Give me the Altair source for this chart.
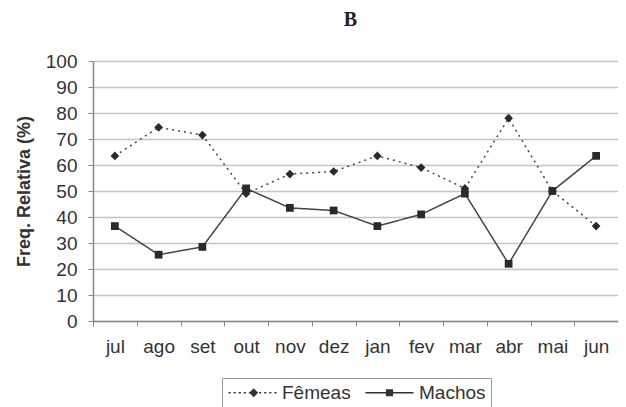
import altair as alt
import pandas as pd

meses = ["jul", "ago", "set", "out", "nov", "dez", "jan", "fev", "mar", "abr", "mai", "jun"]
femeas = [63.5, 74.5, 71.5, 49.0, 56.5, 57.5, 63.5, 59.0, 51.0, 78.0, 50.0, 36.5]
machos = [36.5, 25.5, 28.5, 51.0, 43.5, 42.5, 36.5, 41.0, 49.0, 22.0, 50.0, 63.5]
series = ["Fêmeas", "Machos"]
y_ticks = list(range(0, 101, 10))

rows = []
for i, m in enumerate(meses):
    rows.append({"mes": m, "serie": series[0], "valor": femeas[i], "leg": series[0]})
    rows.append({"mes": m, "serie": series[1], "valor": machos[i], "leg": series[1]})
df = pd.DataFrame(rows)

INK = "#333333"
FONT = "Liberation Sans"

# legend symbol paths (filled shapes only): x spans -4..4 units,
# symbol size 144 -> 6 px per unit -> 48 px wide
H = 0.13  # half line thickness in units

def dotted_path(dash=0.35, gap=0.5):
    parts = []
    x = -4.0
    while x < 4.0:
        x2 = min(x + dash, 4.0)
        parts.append(f"M{x:.3f},{-H}H{x2:.3f}V{H}H{x:.3f}Z")
        x = x2 + gap
    return "".join(parts)

fem_path = dotted_path() + "M0.2,-0.75L0.95,0L0.2,0.75L-0.55,0Z"
mac_path = f"M-4,{-H}H4V{H}H-4ZM-0.6,-0.6H0.6V0.6H-0.6Z"

x_enc = alt.X(
    "mes:N",
    sort=meses,
    scale=alt.Scale(type="band", paddingInner=0, paddingOuter=0),
    bandPosition=0.5,
    axis=alt.Axis(
        title=None,
        tickBand="extent",
        labelAngle=0,
        labelFont=FONT,
        labelFontSize=19,
        labelColor=INK,
        labelPadding=11,
        tickSize=5,
        tickColor="#888888",
        domainColor="#888888",
        domainWidth=1.5,
        grid=False,
    ),
)
y_enc = alt.Y(
    "valor:Q",
    scale=alt.Scale(domain=[0, 100], nice=False),
    axis=alt.Axis(
        title="Freq. Relativa (%)",
        values=y_ticks,
        titleFont=FONT,
        titleFontSize=18,
        titleFontWeight="bold",
        titleColor=INK,
        titlePadding=12,
        labelFont=FONT,
        labelFontSize=19,
        labelColor=INK,
        labelPadding=11,
        tickSize=5,
        tickColor="#888888",
        domainColor="#888888",
        domainWidth=1.5,
        grid=True,
        gridColor="#c4c4c4",
        gridWidth=1.5,
    ),
)

base = alt.Chart(df)

lines = base.mark_line(color="#444444", strokeWidth=1.5).encode(
    x=x_enc,
    y=y_enc,
    detail="serie:N",
    strokeDash=alt.StrokeDash(
        "serie:N",
        scale=alt.Scale(domain=series, range=[[2, 4], [1, 0]]),
        legend=None,
    ),
)

points = base.mark_point(filled=True, color="#2a2a2a", opacity=1).encode(
    x=x_enc,
    y=y_enc,
    shape=alt.Shape(
        "serie:N",
        scale=alt.Scale(domain=series, range=["diamond", "square"]),
        legend=None,
    ),
    size=alt.Size("serie:N", scale=alt.Scale(domain=series, range=[75, 60]), legend=None),
)

legend_layer = base.mark_point(
    filled=True, fill="#333333", opacity=0
).encode(
    x=x_enc,
    y=y_enc,
    shape=alt.Shape(
        "leg:N",
        scale=alt.Scale(domain=series, range=[fem_path, mac_path]),
        legend=alt.Legend(
            title=None,
            orient="none",
            legendX=129,
            legendY=317,
            direction="horizontal",
            strokeColor="#999999",
            padding=5,
            labelFont=FONT,
            labelFontSize=19,
            labelColor=INK,
            labelOffset=20,
            columnPadding=11,
            symbolSize=144,
            symbolOffset=16,
            symbolFillColor="#333333",
            symbolOpacity=1,
        ),
    ),
)

chart = (
    alt.layer(lines, points, legend_layer)
    .resolve_scale(shape="independent", size="independent")
    .properties(
        width=525,
        height=260,
        autosize=alt.AutoSizeParams(type="none"),
        padding={"left": 85, "top": 53, "right": 0, "bottom": 86},
        title=alt.Title(
            "B",
            font="Liberation Serif",
            fontSize=20,
            fontWeight="bold",
            color="#222222",
            anchor="middle",
            frame="group",
            dx=-5,
            offset=22,
        ),
    )
    .configure_view(stroke="#a8a8a8", strokeWidth=1.5)
    .configure(background="white")
)

chart.save("out.html", embed_options={"renderer": "svg", "actions": False})
